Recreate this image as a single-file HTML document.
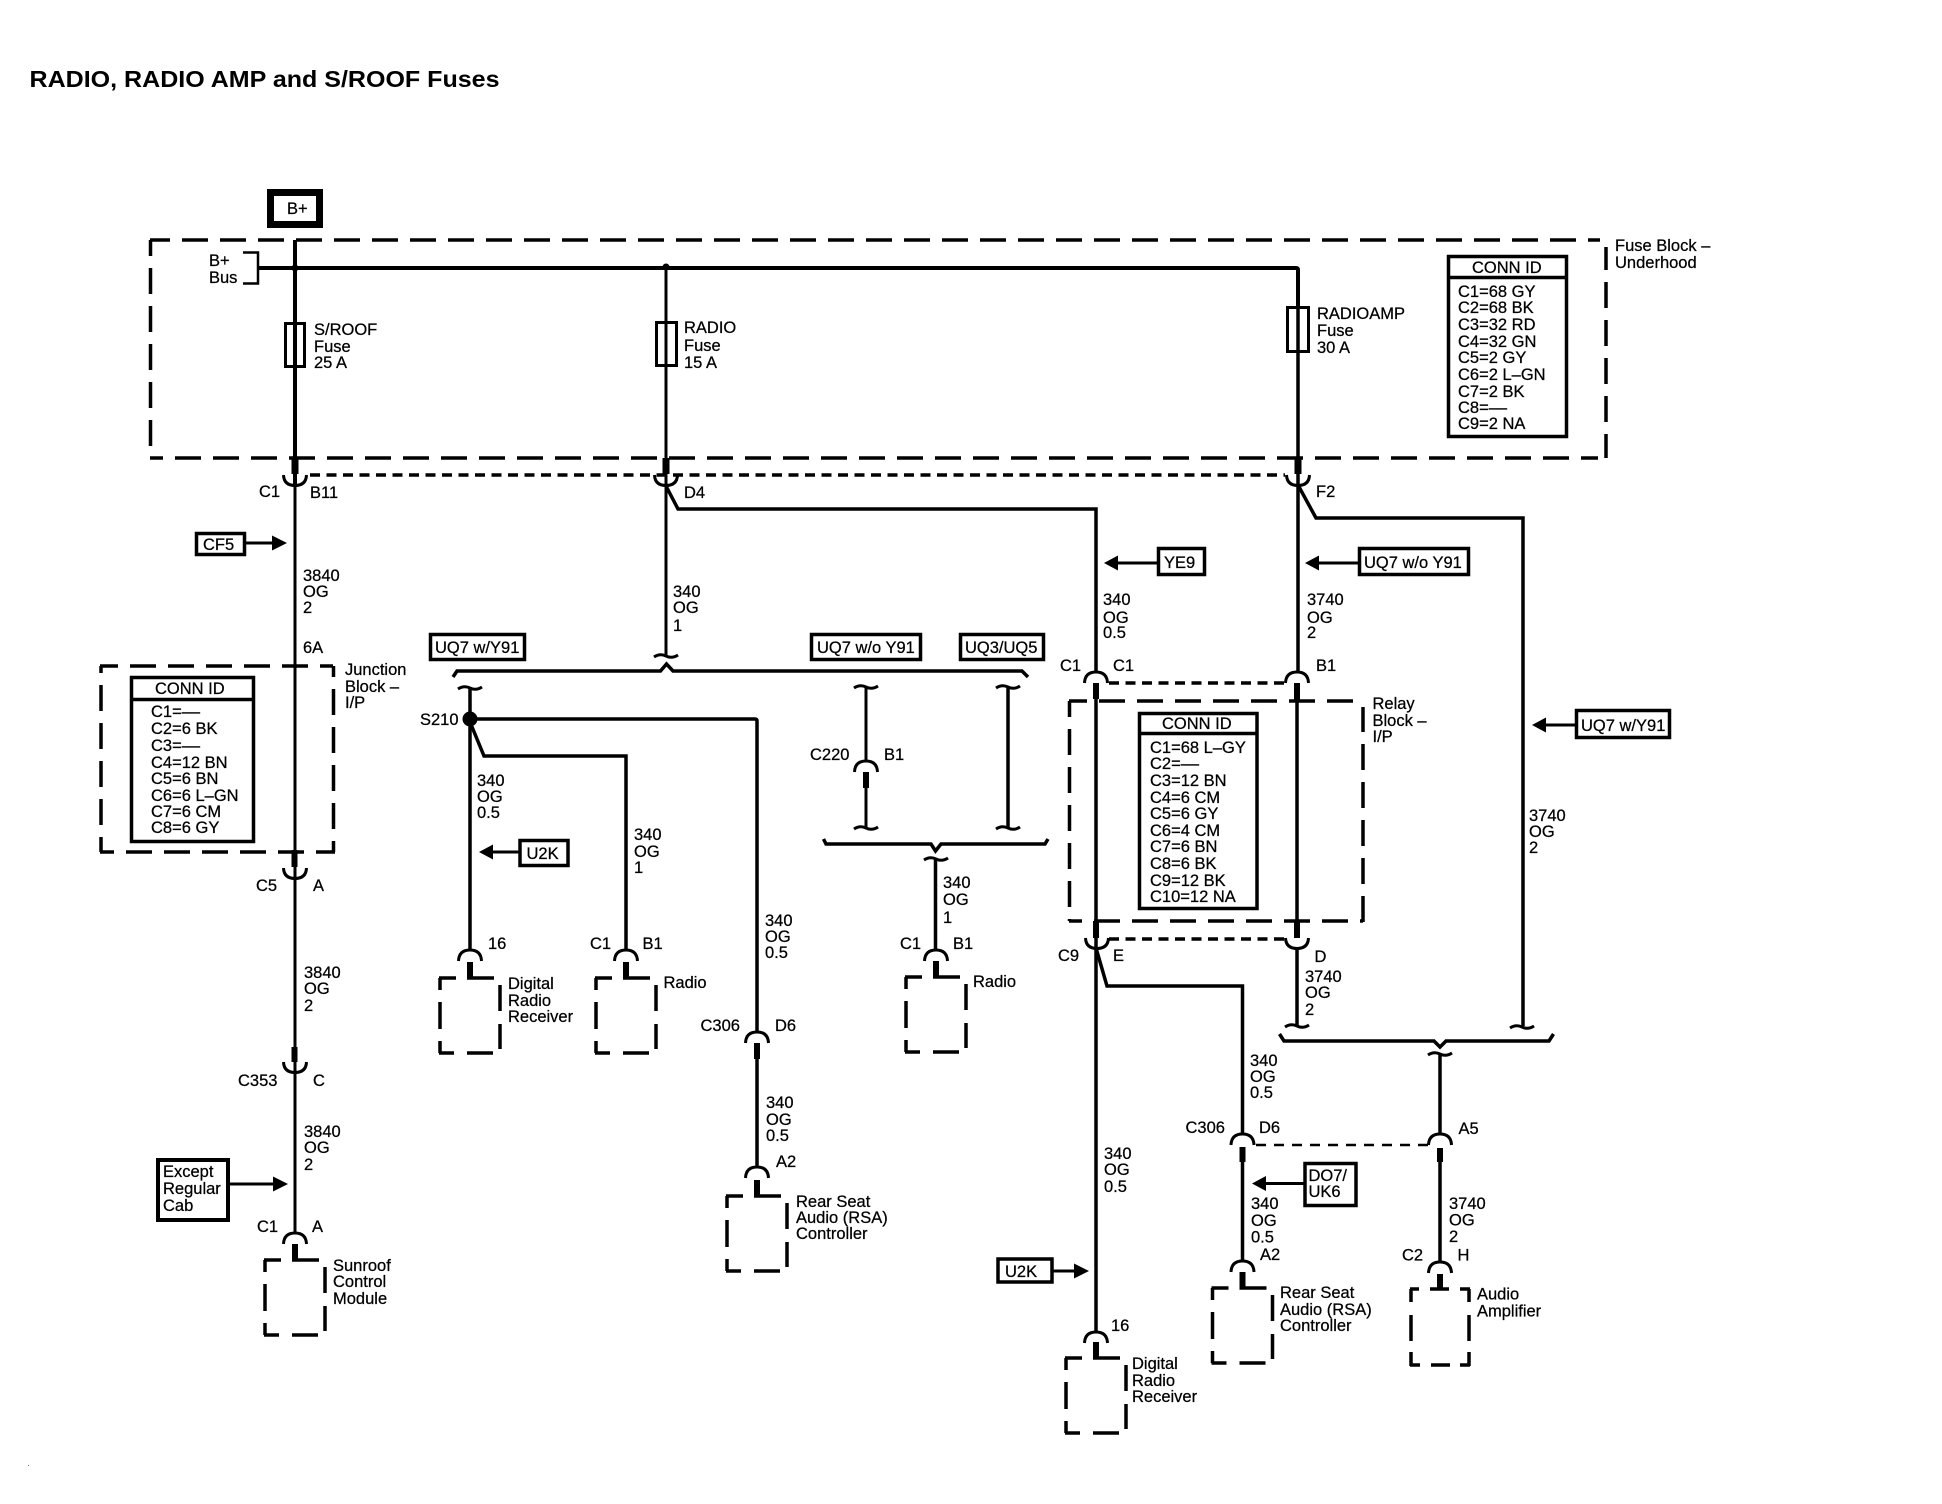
<!DOCTYPE html>
<html><head><meta charset="utf-8"><style>
html,body{margin:0;padding:0;background:#fff}
svg{display:block}
text{font-family:"Liberation Sans",Arial,sans-serif;font-size:16.5px;fill:#000;stroke:#000;stroke-width:.25px}
.w{fill:none;stroke:#000}
</style></head><body>
<svg xmlns="http://www.w3.org/2000/svg" width="1942" height="1504" viewBox="0 0 1942 1504">
<defs>
<path id="cd" d="M-11.5 0Q-11 10.5 0 10.5Q11 10.5 11.5 0" fill="none" stroke="#000" stroke-width="3"/>
<path id="cu" d="M-11.5 11Q-11 0 0 0Q11 0 11.5 11" fill="none" stroke="#000" stroke-width="3"/>
<path id="br" d="M-12 1Q-6 -3 0 0Q6 3 12 -1" fill="none" stroke="#000" stroke-width="3"/>
<g id="comp" fill="none" stroke="#000" stroke-width="3.5">
<path d="M0 -16V1" stroke-width="6"/>
<path d="M-31 0H-14M-3 0H24M-30 0V12M-30 24V51M-30 63V75M30 7V33M30 46V71M-31 75H-16M-3 75H23"/>
</g>
<g id="arrL"><path d="M0 0L14 -7.5V7.5Z" fill="#000"/></g>
<g id="arrR"><path d="M0 0L-15 -7.5V7.5Z" fill="#000"/></g>
</defs>

<text x="29.5" y="87" style="font-size:23px;font-weight:bold;stroke-width:0" textLength="470" lengthAdjust="spacingAndGlyphs">RADIO, RADIO AMP and S/ROOF Fuses</text>

<!-- B+ -->
<rect x="270.5" y="192.5" width="49" height="32" fill="none" stroke="#000" stroke-width="7"/>
<text x="287" y="214">B+</text>

<!-- Block outlines -->
<g class="w" stroke-width="3.5">
<path d="M150 240H1600" stroke-dasharray="26 12" stroke-dashoffset="6"/>
<path d="M150.5 240V458" stroke-dasharray="26 12" stroke-dashoffset="10"/>
<path d="M150 458H1598" stroke-dasharray="26 12" stroke-dashoffset="13"/>
<path d="M1606 458V247" stroke-dasharray="26 12" stroke-dashoffset="2"/>
<path d="M100 666H333" stroke-dasharray="26 12" stroke-dashoffset="8"/>
<path d="M101 666V852" stroke-dasharray="26 12" stroke-dashoffset="19"/>
<path d="M333.5 666V852" stroke-dasharray="26 12" stroke-dashoffset="15"/>
<path d="M100 852H335" stroke-dasharray="26 12" stroke-dashoffset="12"/>
<path d="M1069 701H1358" stroke-dasharray="26 12" stroke-dashoffset="8"/>
<path d="M1069.5 701V921" stroke-dasharray="26 12" stroke-dashoffset="10"/>
<path d="M1363 922V707" stroke-dasharray="26 12"/>
<path d="M1069 921H1363" stroke-dasharray="26 12" stroke-dashoffset="13"/>
</g>

<!-- Bus -->
<g class="w">
<path d="M243 252.5H258V283.5H243" stroke-width="2.5"/>
<path d="M258 268H1296Q1298 268 1298 270V307" stroke-width="4"/>
<path d="M295 240V485" stroke-width="4"/>
<path d="M295 485V1233" stroke-width="3"/>
<path d="M666 268V655" stroke-width="3"/>
<path d="M1298 270V672" stroke-width="3.5"/>
<rect x="285.5" y="323.5" width="19" height="43" stroke-width="3"/>
<rect x="656.5" y="322.5" width="20" height="43" stroke-width="3"/>
<rect x="1287.5" y="307.5" width="21" height="44" stroke-width="3"/>
<!-- stubs -->
<path d="M295 458V474M666 458V474M1298 457V474" stroke-width="7"/>
<path d="M294.5 850V867M294.5 1047V1062M1096 683V699M1297 683V702M1096 921V938M1297 920V938M866 772V788M757 1043V1059M1242.5 1147V1162M1440 1148V1162" stroke-width="6"/>
<!-- dotted shorting -->
<path d="M310 475H1285" stroke-width="3.5" stroke-dasharray="10 6.5"/>
<path d="M1109 683H1285" stroke-width="3.5" stroke-dasharray="10 6.5"/>
<path d="M1109 939H1285" stroke-width="3.5" stroke-dasharray="10 6.5"/>
<path d="M1256 1145H1428" stroke-width="2.5" stroke-dasharray="10 8"/>
<!-- branches -->
<path d="M666 486L678 509H1096V672" stroke-width="3.5"/>
<path d="M1298 485L1316 518H1523V1026" stroke-width="3.5"/>
<path d="M477 719H755Q757 719 757 721V1032" stroke-width="3.5"/>
<path d="M757 1059V1167" stroke-width="3.5"/>
<path d="M470 688V950" stroke-width="3.5"/>
<path d="M470 722L484 756H626V950" stroke-width="3.5"/>
<path d="M1096 699V1332" stroke-width="3.5"/>
<path d="M1096 948L1107 986H1242.5V1134" stroke-width="3.5"/>
<path d="M1242.5 1162V1262" stroke-width="3.5"/>
<path d="M1297 701V921M1297 949V1025" stroke-width="3.5"/>
<path d="M866 687V761M866 788V828" stroke-width="3"/>
<path d="M1008 687V828" stroke-width="3.5"/>
<path d="M935.5 859V950" stroke-width="3.5"/>
<path d="M1440 1054V1134M1440 1162V1262" stroke-width="3.5"/>
<!-- braces -->
<path d="M453 677L457 671H656L660.5 671L666.5 664L673 671H1022L1028 677" stroke-width="3.5"/>
<path d="M823.5 839L826 844H931L935.5 851L941 844H1045L1048 839" stroke-width="3.5"/>
<path d="M1279.5 1034L1284 1041H1434L1440 1047L1446 1041H1549L1553.5 1034" stroke-width="3.5"/>
<!-- arrows shaft -->
<path d="M1118 563H1157M1318 563H1358M493 852H519M1265 1183.5H1304M229 1184H273M245 543H273M1546 725H1576M1053 1271H1075" stroke-width="3"/>
<!-- component box Audio Amp -->
<g stroke-width="3.5">
<path d="M1410 1289H1419M1430 1289H1449M1460 1289H1470M1411 1289V1302M1411 1315V1341M1411 1352V1366M1469 1289V1302M1469 1315V1341M1469 1352V1366M1410 1365H1420M1431 1365H1450M1460 1365H1470"/>
<path d="M1440 1274V1289" stroke-width="6"/>
</g>
</g>

<circle cx="295" cy="268" r="3.5"/><circle cx="666" cy="267" r="3.5"/>
<circle cx="470" cy="719" r="7.5"/>

<!-- cups -->
<use href="#cd" x="295" y="475"/><use href="#cd" x="666" y="475"/><use href="#cd" x="1298" y="475"/>
<use href="#cd" x="295" y="868"/><use href="#cd" x="295" y="1062"/>
<use href="#cd" x="1097" y="938"/><use href="#cd" x="1297" y="938"/>
<use href="#cu" x="1096" y="672"/><use href="#cu" x="1297" y="672"/>
<use href="#cu" x="866" y="761"/>
<use href="#cu" x="757" y="1032"/><use href="#cu" x="757" y="1167"/>
<use href="#cu" x="470" y="950"/><use href="#cu" x="626" y="950"/><use href="#cu" x="936" y="950"/>
<use href="#cu" x="295" y="1233"/>
<use href="#cu" x="1242.5" y="1134"/><use href="#cu" x="1440" y="1134"/>
<use href="#cu" x="1242.5" y="1261"/><use href="#cu" x="1440" y="1262"/>
<use href="#cu" x="1096" y="1332"/>

<!-- breaks -->
<use href="#br" x="666" y="656"/><use href="#br" x="470" y="688"/>
<use href="#br" x="866" y="687"/><use href="#br" x="1008" y="687"/>
<use href="#br" x="866" y="828"/><use href="#br" x="1008" y="828"/>
<use href="#br" x="936" y="859"/><use href="#br" x="1297" y="1026"/>
<use href="#br" x="1522" y="1027"/><use href="#br" x="1440" y="1054"/>

<!-- components -->
<use href="#comp" x="295" y="1260"/>
<use href="#comp" x="470" y="978"/>
<use href="#comp" x="626" y="978"/>
<use href="#comp" x="936" y="977"/>
<use href="#comp" x="757" y="1196"/>
<use href="#comp" x="1242.5" y="1288"/>
<use href="#comp" x="1096" y="1358"/>

<!-- arrows -->
<use href="#arrL" x="1104" y="563"/><use href="#arrL" x="1305" y="563"/>
<use href="#arrL" x="479" y="852"/><use href="#arrL" x="1252" y="1183.5"/>
<use href="#arrL" x="1532" y="725"/>
<use href="#arrR" x="288" y="1184"/><use href="#arrR" x="287" y="543"/><use href="#arrR" x="1089" y="1271"/>

<!-- option boxes -->
<g class="w" stroke-width="3.5">
<rect x="1158.5" y="548.5" width="46" height="26"/>
<rect x="1359.5" y="548.5" width="109" height="26"/>
<rect x="811.5" y="634.5" width="109" height="25"/>
<rect x="960.5" y="634.5" width="83" height="25"/>
<rect x="430.5" y="634.5" width="94" height="25"/>
<rect x="196.5" y="533.5" width="48" height="21"/>
<rect x="520" y="840.5" width="48" height="25"/>
<rect x="998" y="1259" width="54" height="23"/>
<rect x="1576.5" y="710.5" width="93" height="27"/>
<rect x="1305" y="1163.5" width="51" height="42"/>
<rect x="158" y="1160" width="70" height="60" stroke-width="4"/>
<rect x="1448.5" y="256.5" width="118" height="180"/>
<path d="M1448 277.5H1567"/>
<rect x="131.5" y="677.5" width="122" height="164"/>
<path d="M131 699.5H254"/>
<rect x="1139.5" y="713.5" width="117.5" height="195"/>
<path d="M1139 733.5H1258"/>
</g>

<rect x="28" y="1465" width="1" height="1" fill="#777"/>

<!-- labels -->
<text x="209" y="266">B+</text><text x="209" y="283">Bus</text>
<text x="314" y="335">S/ROOF</text><text x="314" y="352">Fuse</text><text x="314" y="368">25 A</text>
<text x="684" y="333">RADIO</text><text x="684" y="351">Fuse</text><text x="684" y="368">15 A</text>
<text x="1317" y="319">RADIOAMP</text><text x="1317" y="336">Fuse</text><text x="1317" y="353">30 A</text>
<text x="1615" y="251">Fuse Block –</text><text x="1615" y="268">Underhood</text>

<text x="1472" y="273">CONN ID</text>
<text x="1458" y="297">C1=68 GY</text><text x="1458" y="313">C2=68 BK</text><text x="1458" y="330">C3=32 RD</text><text x="1458" y="347">C4=32 GN</text><text x="1458" y="363">C5=2 GY</text><text x="1458" y="380">C6=2 L–GN</text><text x="1458" y="397">C7=2 BK</text><text x="1458" y="413">C8=––</text><text x="1458" y="429">C9=2 NA</text>

<text x="155" y="694">CONN ID</text>
<text x="151" y="717">C1=––</text><text x="151" y="734">C2=6 BK</text><text x="151" y="751">C3=––</text><text x="151" y="768">C4=12 BN</text><text x="151" y="784">C5=6 BN</text><text x="151" y="801">C6=6 L–GN</text><text x="151" y="817">C7=6 CM</text><text x="151" y="833">C8=6 GY</text>

<text x="1162" y="729">CONN ID</text>
<text x="1150" y="753">C1=68 L–GY</text><text x="1150" y="769">C2=––</text><text x="1150" y="786">C3=12 BN</text><text x="1150" y="803">C4=6 CM</text><text x="1150" y="819">C5=6 GY</text><text x="1150" y="836">C6=4 CM</text><text x="1150" y="852">C7=6 BN</text><text x="1150" y="869">C8=6 BK</text><text x="1150" y="886">C9=12 BK</text><text x="1150" y="902">C10=12 NA</text>

<text x="259" y="497">C1</text><text x="310" y="498">B11</text>
<text x="684" y="498">D4</text><text x="1316" y="497">F2</text>
<text x="203" y="550">CF5</text>
<text x="1164" y="568">YE9</text><text x="1364" y="568">UQ7 w/o Y91</text>
<text x="817" y="653">UQ7 w/o Y91</text><text x="965" y="653">UQ3/UQ5</text><text x="435" y="653">UQ7 w/Y91</text>
<text x="1581" y="731">UQ7 w/Y91</text>
<text x="526.5" y="859">U2K</text><text x="1005" y="1277">U2K</text>
<text x="1308.5" y="1181">DO7/</text><text x="1308.5" y="1197">UK6</text>
<text x="163" y="1177">Except</text><text x="163" y="1194">Regular</text><text x="163" y="1211">Cab</text>

<text x="303" y="581">3840</text><text x="303" y="597">OG</text><text x="303" y="613">2</text>
<text x="303" y="653">6A</text>
<text x="345" y="675">Junction</text><text x="345" y="692">Block –</text><text x="345" y="708">I/P</text>
<text x="256" y="891">C5</text><text x="313" y="891">A</text>
<text x="304" y="978">3840</text><text x="304" y="994">OG</text><text x="304" y="1011">2</text>
<text x="238" y="1086">C353</text><text x="313" y="1086">C</text>
<text x="304" y="1137">3840</text><text x="304" y="1153">OG</text><text x="304" y="1170">2</text>
<text x="257" y="1232">C1</text><text x="312" y="1232">A</text>
<text x="333" y="1271">Sunroof</text><text x="333" y="1287">Control</text><text x="333" y="1304">Module</text>

<text x="673" y="597">340</text><text x="673" y="613">OG</text><text x="673" y="631">1</text>
<text x="1103" y="605">340</text><text x="1103" y="623">OG</text><text x="1103" y="638">0.5</text>
<text x="1307" y="605">3740</text><text x="1307" y="623">OG</text><text x="1307" y="638">2</text>
<text x="1060" y="671">C1</text><text x="1113" y="671">C1</text><text x="1316" y="671">B1</text>
<text x="1529" y="821">3740</text><text x="1529" y="837">OG</text><text x="1529" y="853">2</text>

<text x="420" y="725">S210</text>
<text x="477" y="786">340</text><text x="477" y="802">OG</text><text x="477" y="818">0.5</text>
<text x="634" y="840">340</text><text x="634" y="857">OG</text><text x="634" y="873">1</text>
<text x="488" y="949">16</text><text x="590" y="949">C1</text><text x="642.5" y="949">B1</text>
<text x="508" y="989">Digital</text><text x="508" y="1006">Radio</text><text x="508" y="1022">Receiver</text>
<text x="663.5" y="988">Radio</text>

<text x="810" y="760">C220</text><text x="884" y="760">B1</text>
<text x="943" y="888">340</text><text x="943" y="905">OG</text><text x="943" y="923">1</text>
<text x="900" y="949">C1</text><text x="953" y="949">B1</text>
<text x="973" y="987">Radio</text>

<text x="765" y="926">340</text><text x="765" y="942">OG</text><text x="765" y="958">0.5</text>
<text x="700.5" y="1031">C306</text><text x="775" y="1031">D6</text>
<text x="766" y="1108">340</text><text x="766" y="1125">OG</text><text x="766" y="1141">0.5</text>
<text x="776" y="1167">A2</text>
<text x="796" y="1207">Rear Seat</text><text x="796" y="1223">Audio (RSA)</text><text x="796" y="1239">Controller</text>

<text x="1372.5" y="709">Relay</text><text x="1372.5" y="726">Block –</text><text x="1372.5" y="742">I/P</text>
<text x="1058" y="961">C9</text><text x="1113" y="961">E</text><text x="1314.5" y="962">D</text>
<text x="1305" y="982">3740</text><text x="1305" y="998">OG</text><text x="1305" y="1015">2</text>
<text x="1250" y="1066">340</text><text x="1250" y="1082">OG</text><text x="1250" y="1098">0.5</text>
<text x="1185.5" y="1133">C306</text><text x="1259" y="1133">D6</text><text x="1458.5" y="1134">A5</text>
<text x="1251" y="1209">340</text><text x="1251" y="1226">OG</text><text x="1251" y="1242.5">0.5</text>
<text x="1449" y="1209">3740</text><text x="1449" y="1225.5">OG</text><text x="1449" y="1242">2</text>
<text x="1260" y="1260">A2</text><text x="1402" y="1260.5">C2</text><text x="1457.5" y="1260.5">H</text>
<text x="1280" y="1298">Rear Seat</text><text x="1280" y="1315">Audio (RSA)</text><text x="1280" y="1331">Controller</text>
<text x="1477" y="1299.5">Audio</text><text x="1477" y="1316.5">Amplifier</text>
<text x="1104" y="1159">340</text><text x="1104" y="1175">OG</text><text x="1104" y="1192">0.5</text>
<text x="1111" y="1331">16</text>
<text x="1132" y="1369">Digital</text><text x="1132" y="1386">Radio</text><text x="1132" y="1402">Receiver</text>
</svg>
</body></html>
